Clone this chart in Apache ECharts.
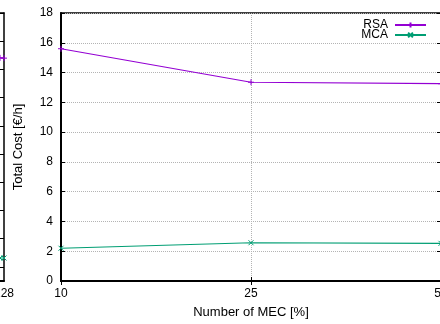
<!DOCTYPE html>
<html>
<head>
<meta charset="utf-8">
<script src="https://cdn.jsdelivr.net/npm/echarts@6/dist/echarts.min.js"></script>
<style>html,body{margin:0;padding:0;background:#fff}#c{width:440px;height:324px}</style>
</head>
<body>
<div id="c"></div>
<script>
// Main panel data
const mecLabels = ['10', '25', '50'];
const rsaCost = [15.6, 13.35, 13.25];
const mcaCost = [2.2, 2.57, 2.53];
const seriesNames = ['RSA', 'MCA'];
const yMin = 0, yMax = 18, yStep = 2;
// Left (cropped) panel data: only its right edge is visible
const leftLabels = ['64', '128'];
const leftRsa = [15.82, 15.8];
const leftMca = [1.63, 1.63];

const FONT = '"Liberation Sans", Arial, sans-serif';
const PURPLE = '#9400d3', GREEN = '#009e73';
const PLUS = 'path://M0,-1L0,1M-1,0L1,0';
const CROSS = 'path://M-1,-1L1,1M-1,1L1,-1';
const grid = {type: 'dotted', color: '#b4b4b4', width: 1};

const chart = echarts.init(document.getElementById('c'), null, {renderer: 'canvas'});
chart.setOption({
  animation: false,
  backgroundColor: '#fff',
  textStyle: {fontFamily: FONT},
  legend: {
    data: seriesNames,
    orient: 'vertical',
    right: 13, top: 19, padding: 0,
    align: 'right',
    itemWidth: 31, itemHeight: 6, itemGap: -2,
    textStyle: {fontFamily: FONT, fontSize: 12, color: '#000', padding: [0, 2, 0, 0]}
  },
  grid: [
    {left: 61, top: 13, width: 380, height: 268, show: true, borderColor: '#000', borderWidth: 1.5,
     outerBoundsMode: 'none', containLabel: false},
    {left: 0, top: 13, width: 4, height: 268, show: false, outerBoundsMode: 'none', containLabel: false}
  ],
  xAxis: [
    {gridIndex: 0, type: 'category', data: mecLabels, boundaryGap: false, position: 'bottom',
     name: 'Number of MEC [%]', nameLocation: 'middle', nameGap: 25,
     nameTextStyle: {fontFamily: FONT, fontSize: 13, color: '#000'},
     axisLine: {lineStyle: {color: '#000', width: 2}},
     axisTick: {inside: true, length: 4, lineStyle: {color: '#000'}},
     axisLabel: {fontFamily: FONT, fontSize: 12, color: '#000', margin: 7, showMinLabel: true, showMaxLabel: true},
     splitLine: {show: true, lineStyle: grid}},
    {gridIndex: 0, type: 'category', data: mecLabels, boundaryGap: false, position: 'top',
     axisLine: {lineStyle: {color: '#000', width: 1.5}},
     axisTick: {inside: true, length: 4, lineStyle: {color: '#000'}},
     axisLabel: {show: false}, splitLine: {show: false}},
    {gridIndex: 1, type: 'category', data: leftLabels, boundaryGap: false, position: 'bottom',
     axisLine: {lineStyle: {color: '#000', width: 2}},
     axisTick: {show: false},
     axisLabel: {fontFamily: FONT, fontSize: 12, color: '#000', margin: 7, interval: 0, hideOverlap: false,
                 formatter: (v) => (v === leftLabels[leftLabels.length - 1] ? v : '')},
     splitLine: {show: false}},
    {gridIndex: 1, type: 'category', data: leftLabels, boundaryGap: false, position: 'top',
     axisLine: {lineStyle: {color: '#000', width: 1.5}},
     axisTick: {show: false}, axisLabel: {show: false}, splitLine: {show: false}}
  ],
  yAxis: [
    {gridIndex: 0, type: 'value', min: yMin, max: yMax, interval: yStep, position: 'left',
     name: 'Total Cost [€/h]', nameLocation: 'middle', nameGap: 36,
     nameTextStyle: {fontFamily: FONT, fontSize: 13, color: '#000'},
     axisLine: {show: true, lineStyle: {color: '#000', width: 2}},
     axisTick: {show: true, inside: true, length: 4, lineStyle: {color: '#000'}},
     axisLabel: {fontFamily: FONT, fontSize: 12, color: '#000', margin: 8},
     splitLine: {show: true, lineStyle: grid}},
    {gridIndex: 0, type: 'value', min: yMin, max: yMax, interval: yStep, position: 'right',
     axisLine: {show: true, lineStyle: {color: '#000', width: 1.5}},
     axisTick: {show: true, inside: true, length: 4, lineStyle: {color: '#000'}},
     axisLabel: {show: false}, splitLine: {show: false}},
    {gridIndex: 1, type: 'value', min: 0, max: 19, position: 'left',
     axisLine: {show: false}, axisTick: {show: false}, axisLabel: {show: false}, splitLine: {show: false}},
    {gridIndex: 1, type: 'value', inverse: true, min: 0, max: 19, interval: 2, position: 'right',
     axisLine: {show: true, onZero: false, lineStyle: {color: '#000', width: 1.5}},
     axisTick: {show: true, inside: true, length: 4, lineStyle: {color: '#000'}},
     axisLabel: {show: false}, splitLine: {show: false}}
  ],
  series: [
    {name: seriesNames[0], type: 'line', xAxisIndex: 0, yAxisIndex: 0, data: rsaCost,
     symbol: PLUS, symbolSize: 6, showAllSymbol: true,
     lineStyle: {color: PURPLE, width: 1.2},
     itemStyle: {color: PURPLE, borderColor: PURPLE, borderWidth: 1}},
    {name: seriesNames[1], type: 'line', xAxisIndex: 0, yAxisIndex: 0, data: mcaCost,
     symbol: CROSS, symbolSize: 5, showAllSymbol: true,
     lineStyle: {color: GREEN, width: 1.2},
     itemStyle: {color: GREEN, borderColor: GREEN, borderWidth: 1}},
    {name: 'RSA-left', type: 'line', xAxisIndex: 2, yAxisIndex: 2, data: leftRsa,
     symbol: PLUS, symbolSize: 6, showSymbol: true, lineStyle: {color: PURPLE, width: 1.2},
     itemStyle: {color: PURPLE, borderColor: PURPLE, borderWidth: 1}},
    {name: 'MCA-left', type: 'line', xAxisIndex: 2, yAxisIndex: 2, data: leftMca,
     symbol: CROSS, symbolSize: 5, showSymbol: true, lineStyle: {color: GREEN, width: 1.2},
     itemStyle: {color: GREEN, borderColor: GREEN, borderWidth: 1}}
  ]
});
</script>
</body>
</html>
